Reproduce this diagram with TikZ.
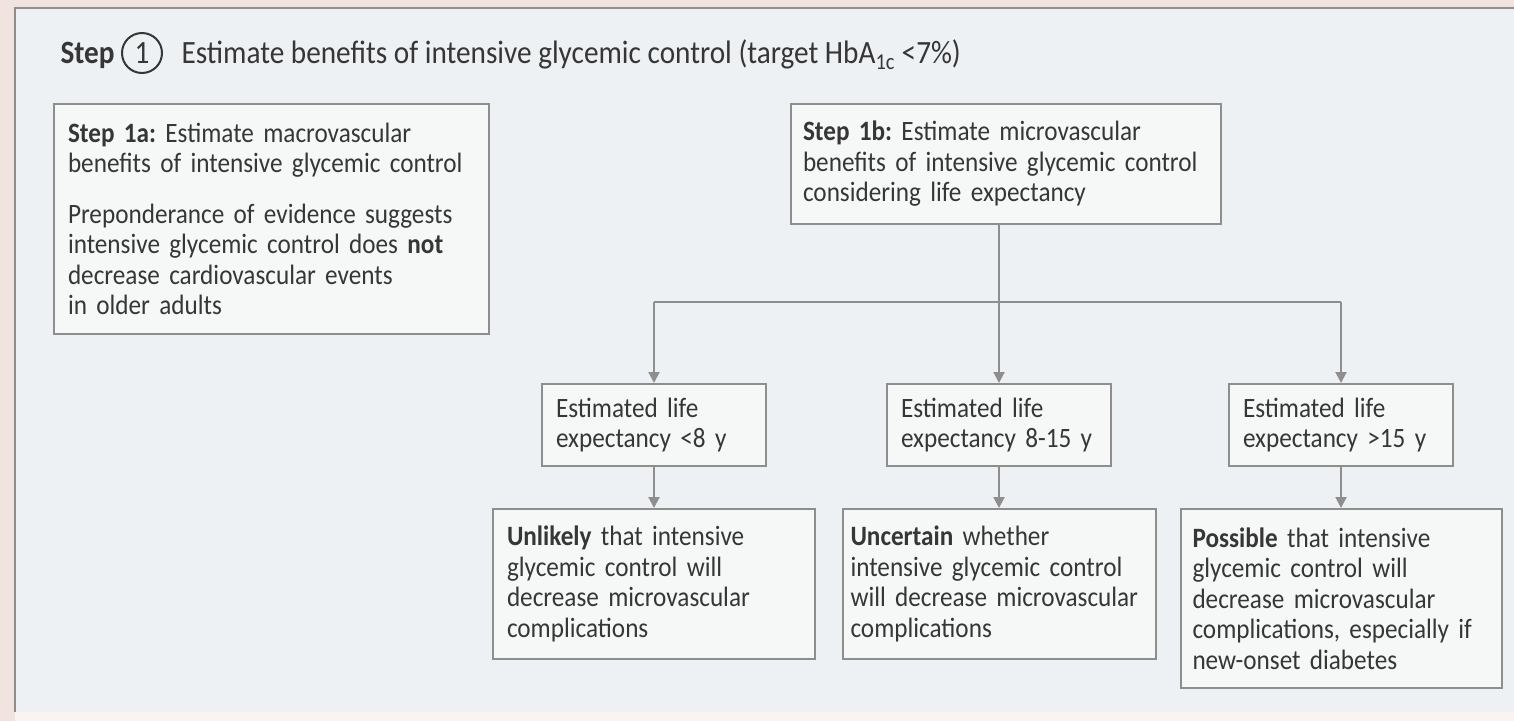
\documentclass[tikz,border=0pt]{standalone}
\usepackage{fontspec}
\setmainfont{Carlito}[FakeStretch=0.9]
\usepackage{tikz}
\usetikzlibrary{positioning,arrows.meta}
\frenchspacing

\definecolor{bgpink}{HTML}{F1E3DF}
\definecolor{panelgray}{HTML}{EEF1F3}
\definecolor{boxfill}{HTML}{F6F7F7}
\definecolor{linegray}{HTML}{8E8E8E}
\definecolor{txt}{HTML}{363636}

\tikzset{
  box/.style={draw=linegray, line width=2pt, fill=boxfill, text=txt, align=left,
    inner xsep=14pt, inner ysep=0pt, font=\fontsize{28}{30.5}\selectfont},
  flow/.style={draw=linegray, line width=2pt, -{Triangle[width=11pt,length=11pt]}},
  head/.style={text=txt, font=\fontsize{32.5}{36}\selectfont},
}

\begin{document}
\begin{tikzpicture}[x=1pt, y=-1pt]
        \useasboundingbox (0,0) rectangle (1514,721);
        \fill[bgpink] (0,0) rectangle (1514,721);
        \fill[white!60!bgpink] (15,712) rectangle (1514,721);
        \fill[panelgray] (15,8) rectangle (1514,712);
        \draw[linegray, line width=2pt] (1514,8) -- (15,8) -- (15,712);

        \node[head, anchor=base west, font=\fontsize{32.5}{36}\selectfont\bfseries] (steplbl) at (57,63) {Step};
        \node[head, circle, draw=txt, line width=2pt, minimum size=40pt, inner sep=0pt] (stepnum) at (142,53) {1};
        \node[head, anchor=base west] (title) at (178,63) {Estimate benefits of intensive glycemic control (target HbA\textsubscript{1c} <7\%)};

        \node[box, anchor=north west, text width=407pt, minimum height=230pt] (macro) at (53,103)
          {\textbf{Step 1a:} Estimate macrovascular\\ benefits of intensive glycemic control\\[20pt]
           Preponderance of evidence suggests\\ intensive glycemic control does \textbf{not}\\
           decrease cardiovascular events\\ in older adults};
        \node[box, inner xsep=12pt, anchor=north west, text width=406pt, minimum height=120pt] (micro) at (790,103)
          {\textbf{Step 1b:} Estimate microvascular\\ benefits of intensive glycemic control\\ considering life expectancy};

        \node[box, text width=196pt, minimum height=82pt] (le-mid) at (999,425) {Estimated life\\ expectancy 8-15 y};
        \node[box, text width=196pt, minimum height=82pt, left=119pt of le-mid] (le-lo) {Estimated life\\ expectancy <8 y};
        \node[box, text width=196pt, minimum height=82pt, right=116pt of le-mid] (le-hi) {Estimated life\\ expectancy >15 y};

        \node[box, text width=294pt, minimum height=150pt, below=41pt of le-lo] (out-lo)
          {\textbf{Unlikely} that intensive\\ glycemic control will\\ decrease microvascular\\ complications};
        \node[box, inner xsep=8pt, text width=297pt, minimum height=150pt, below=41pt of le-mid] (out-mid)
          {\textbf{Uncertain} whether\\ intensive glycemic control\\ will decrease microvascular\\ complications};
        \node[box, inner xsep=12pt, text width=297pt, minimum height=179pt, below=41pt of le-hi] (out-hi)
          {\textbf{Possible} that intensive\\ glycemic control will\\ decrease microvascular\\ complications, especially if\\ new-onset diabetes};

        \coordinate (fork) at (999,302);
        \draw[flow] (micro.south -| le-mid.north) -- (le-mid.north); %
        \draw[linegray, line width=2pt] (le-lo.north |- fork) -- (le-hi.north |- fork); %
        \draw[flow] (le-lo.north |- fork) -- (le-lo.north); %
        \draw[flow] (le-hi.north |- fork) -- (le-hi.north); %

        \draw[flow] (le-lo) -- (out-lo); %
        \draw[flow] (le-mid) -- (out-mid); %
        \draw[flow] (le-hi) -- (out-hi); %

\end{tikzpicture}
\end{document}
